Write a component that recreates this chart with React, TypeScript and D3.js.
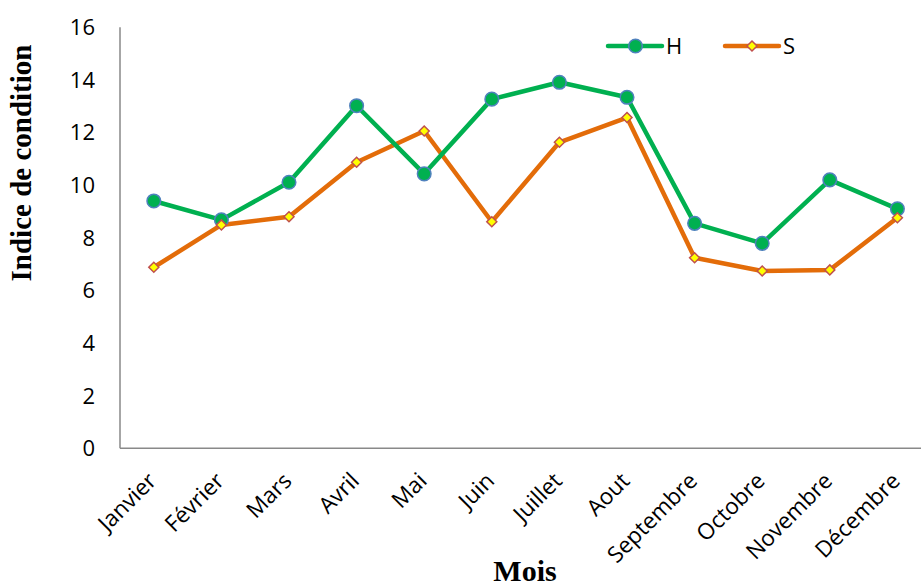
import * as d3 from 'd3';
import React, { useRef, useEffect } from 'react';

const months = ["Janvier", "Février", "Mars", "Avril", "Mai", "Juin", "Juillet", "Aout", "Septembre", "Octobre", "Novembre", "Décembre"]
const valuesH = [9.4, 8.68, 10.11, 13.02, 10.43, 13.27, 13.91, 13.34, 8.55, 7.79, 10.2, 9.1]
const valuesS = [6.88, 8.49, 8.8, 10.87, 12.06, 8.61, 11.63, 12.57, 7.24, 6.74, 6.78, 8.76]
const yTicks = [0, 2, 4, 6, 8, 10, 12, 14, 16]

const width = 921
const height = 586
const margin = { top: 27, left: 120, bottom: 138 }

const tickFont = '"Open Sans", sans-serif'
const titleFont = '"Liberation Serif", "Times New Roman", serif'

function LineChart() {
  const ref = useRef(null)

  useEffect(() => {
    const svg = d3.select(ref.current)
    svg.selectAll('*').remove()

    const x = d3.scaleBand()
      .domain(months)
      .range([margin.left, margin.left + 12 * 67.6])

    const y = d3.scaleLinear()
      .domain([0, 16])
      .range([height - margin.bottom + 0.3, margin.top + 0.3])

    const cx = (m) => x(m) + x.bandwidth() / 2

    // axes
    svg.append("line")
      .attr("x1", margin.left).attr("x2", margin.left)
      .attr("y1", y(16)).attr("y2", y(0))
      .attr("stroke", "#898989").attr("stroke-width", 1.5)
    svg.append("line")
      .attr("x1", margin.left).attr("x2", width)
      .attr("y1", y(0)).attr("y2", y(0))
      .attr("stroke", "#898989").attr("stroke-width", 1.5)

    svg.append("g").selectAll("text")
      .data(yTicks)
      .enter()
      .append("text")
      .attr("x", 95)
      .attr("y", d => y(d))
      .attr("dy", "0.36em")
      .attr("text-anchor", "end")
      .style("font-family", tickFont)
      .style("font-size", "22px")
      .text(d => d)

    svg.append("g").selectAll("text")
      .data(months)
      .enter()
      .append("text")
      .attr("transform", d => `translate(${cx(d) + 4},${y(0) + 34}) rotate(-45)`)
      .attr("text-anchor", "end")
      .style("font-family", tickFont)
      .style("font-size", "22.5px")
      .text(d => d)

    // titles
    svg.append("text")
      .attr("transform", "translate(31,163) rotate(-90)")
      .attr("text-anchor", "middle")
      .style("font-family", titleFont)
      .style("font-weight", "bold")
      .style("font-size", "29px")
      .text("Indice de condition")

    svg.append("text")
      .attr("x", 525)
      .attr("y", 581)
      .attr("text-anchor", "middle")
      .style("font-family", titleFont)
      .style("font-weight", "bold")
      .style("font-size", "30px")
      .text("Mois")

    const line = d3.line()
      .x((d, i) => cx(months[i]))
      .y(d => y(d))

    // series S
    svg.append("path")
      .datum(valuesS)
      .attr("d", line)
      .attr("fill", "none")
      .attr("stroke", "#E36C09")
      .attr("stroke-width", 4.5)
      .attr("stroke-linejoin", "round")

    // series H
    svg.append("path")
      .datum(valuesH)
      .attr("d", line)
      .attr("fill", "none")
      .attr("stroke", "#00B050")
      .attr("stroke-width", 4.5)
      .attr("stroke-linejoin", "round")

    const diamond = d3.symbol().type(d3.symbolDiamond2).size(64)

    svg.append("g").selectAll("circle")
      .data(valuesH)
      .enter()
      .append("circle")
      .attr("cx", (d, i) => cx(months[i]))
      .attr("cy", d => y(d))
      .attr("r", 6.8)
      .attr("fill", "#00B050")
      .attr("stroke", "#4F81BD")
      .attr("stroke-width", 1.5)

    svg.append("g").selectAll("path")
      .data(valuesS)
      .enter()
      .append("path")
      .attr("d", diamond)
      .attr("transform", (d, i) => `translate(${cx(months[i])},${y(d)})`)
      .attr("fill", "#FFFF00")
      .attr("stroke", "#C0504D")
      .attr("stroke-width", 1.5)

    // legend
    const legend = svg.append("g")
    legend.append("line")
      .attr("x1", 608).attr("x2", 662).attr("y1", 46).attr("y2", 46)
      .attr("stroke", "#00B050").attr("stroke-width", 4.5).attr("stroke-linecap", "round")
    legend.append("circle")
      .attr("cx", 635.5).attr("cy", 46).attr("r", 6.8)
      .attr("fill", "#00B050").attr("stroke", "#4F81BD").attr("stroke-width", 1.5)
    legend.append("text")
      .attr("x", 666).attr("y", 46).attr("dy", "0.36em")
      .style("font-family", tickFont).style("font-size", "22px")
      .text("H")
    legend.append("line")
      .attr("x1", 725).attr("x2", 779).attr("y1", 46).attr("y2", 46)
      .attr("stroke", "#E36C09").attr("stroke-width", 4.5).attr("stroke-linecap", "round")
    legend.append("path")
      .attr("d", diamond)
      .attr("transform", "translate(752,46)")
      .attr("fill", "#FFFF00").attr("stroke", "#C0504D").attr("stroke-width", 1.5)
    legend.append("text")
      .attr("x", 783).attr("y", 46).attr("dy", "0.36em")
      .style("font-family", tickFont).style("font-size", "22px")
      .text("S")
  }, [])

  return (
    <svg ref={ref} width={width} height={height} style={{ display: "block" }}></svg>
  )
}

export default function App() {
  return (
    <div style={{ position: "absolute", left: 0, top: 0, background: "#fff" }}>
      <LineChart />
    </div>
  )
}
